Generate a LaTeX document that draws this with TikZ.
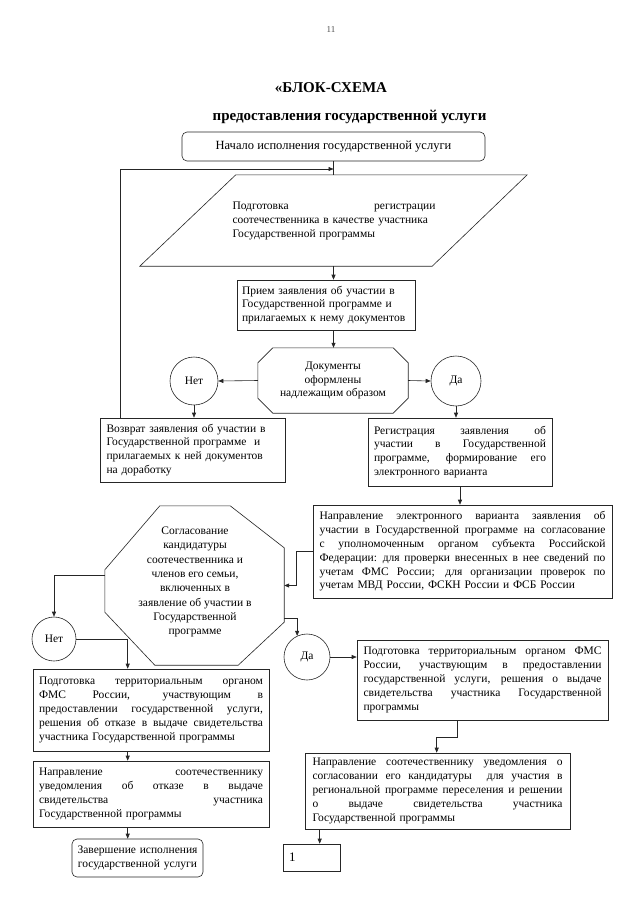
\documentclass[tikz,border=0pt]{standalone}
\usepackage{fontspec}
\setmainfont{Liberation Serif}
\usetikzlibrary{arrows.meta,calc}
\newlength\jlw
\newcommand\jl[1]{\leavevmode\hbox to\jlw{\spaceskip=.25em plus 1fil\relax#1}}
\newcommand\bodyf{\fontsize{11.5}{13.8}\selectfont}
\newcommand\titlef{\fontsize{15}{18}\selectfont\bfseries}
\tikzset{
  ln/.style={line width=0.6pt, draw=black!85},
  arr/.style={ln, -{Triangle[length=5pt,width=4pt]}},
  bx/.style={draw=black!85, line width=0.6pt, inner sep=0pt, align=left, font=\bodyf},
  jw/.style={text width=#1, execute at begin node={\setlength{\jlw}{#1}}},
  circ/.style={circle, draw=black!85, line width=0.6pt, inner sep=0pt, font=\bodyf},
}
\begin{document}
\begin{tikzpicture}[x=1pt,y=-1pt]
\useasboundingbox (0,0) rectangle (640,905);
\fill[white] (0,0) rectangle (640,905);

\node[font=\fontsize{9}{10}\selectfont, text=black!70] (pg) at (331,30) {11};
\node[font=\titlef] (t1) at (331,88) {«БЛОК-СХЕМА};
\node[font=\titlef] (t2) at (349.5,117) {предоставления государственной услуги};

% start
\node[bx, rounded corners=5pt, minimum width=303, minimum height=29, align=center, font=\fontsize{12.5}{15}\selectfont] (start) at (333.5,146.5) {Начало исполнения государственной услуги};

% parallelogram
\node[inner sep=0pt, minimum width=387, minimum height=91] (prep) at (333.5,220.5) {};
\draw[ln] ($(prep.north west)+(96,0)$) -- (prep.north east) -- ($(prep.south east)+(-95,0)$) -- (prep.south west) -- cycle;
\node[font=\bodyf, jw=203pt, align=left, inner sep=0pt] (prept) at (334,221) {\jl{Подготовка регистрации}\\соотечественника в качестве участника\\Государственной программы};

\coordinate (j1) at (333.5,169);
\draw[ln] (start.south) -- (start.south |- prep.north);

% receive
\node[bx, minimum width=178, minimum height=50, text width=168] (recv) at (326,305) {Прием заявления об участии в\\Государственной программе и\\прилагаемых к нему документов};
\draw[arr] (prep.south) -- (prep.south |- recv.north);

% documents decision
\node[inner sep=0pt, minimum width=150, minimum height=65, font=\bodyf, align=center] (doc) at (333,380.5) {Документы\\оформлены\\надлежащим образом};
\draw[ln] ($(doc.north west)+(15,0)$) -- ($(doc.north east)+(-15,0)$) -- ($(doc.north east)+(0,15)$) -- ($(doc.south east)+(0,-15)$) -- ($(doc.south east)+(-15,0)$) -- ($(doc.south west)+(15,0)$) -- ($(doc.south west)+(0,-15)$) -- ($(doc.north west)+(0,15)$) -- cycle;
\draw[arr] (recv.south -| prep.south) -- (prep.south |- doc.north);

\node[circ, minimum size=48] (net1) at (194,381) {Нет};
\node[circ, minimum size=50] (da1) at (456,381) {Да};
\draw[arr] (doc.west) -- (net1.east);
\draw[arr] (doc.east) -- (da1.west);

% return
\node[bx, minimum width=185, minimum height=64, text width=172] (ret) at (192.5,450) {Возврат заявления об участии в\\Государственной программе~ и\\прилагаемых к ней документов\\на доработку};
\draw[arr] (net1.south) -- (net1.south |- ret.north);
\coordinate (fb) at ($(ret.north west)+(21,0)$);
\draw[arr] (fb) |- (j1);

% registration
\node[bx, minimum width=184, minimum height=68, jw=172pt] (reg) at (460,452) {\jl{Регистрация заявления об}\\\jl{участии в Государственной}\\\jl{программе, формирование его}\\электронного варианта};
\draw[arr] (da1.south) -- (da1.south |- reg.north);

% send electronic
\node[bx, minimum width=299, minimum height=93, jw=286pt] (sendE) at (462.5,551.5) {\jl{Направление электронного варианта заявления об}\\\jl{участии в Государственной программе на согласование}\\\jl{с уполномоченным органом субъекта Российской}\\\jl{Федерации: для проверки внесенных в нее сведений по}\\\jl{учетам ФМС России; для организации проверок по}\\учетам МВД России, ФСКН России и ФСБ России};
\draw[arr] (reg.south) -- (reg.south |- sendE.north);

% octagon
\node[inner sep=0pt, minimum width=179, minimum height=159] (oct) at (194.5,585.5) {};
\draw[ln] ($(oct.north west)+(55,0)$) -- ($(oct.north east)+(-54,0)$) -- ($(oct.north east)+(0,42)$) -- ($(oct.south east)+(0,-43)$) -- ($(oct.south east)+(-46,0)$) -- ($(oct.south west)+(50,0)$) -- ($(oct.south west)+(0,-53)$) -- ($(oct.north west)+(0,64)$) -- cycle;
\node[font=\fontsize{11.5}{14.3}\selectfont, align=center, inner sep=0pt] (octt) at (195,582) {Согласование\\кандидатуры\\соотечественника и\\членов его семьи,\\включенных в\\заявление об участии в\\Государственной\\программе};
\draw[arr] (sendE.west) -- ++(-16,0) |- (oct.east);

% left branch
\node[circ, minimum size=44] (net2) at (54,639) {Нет};
\draw[arr] ($(oct.west)+(0,-10)$) -| (net2.north);

\node[bx, minimum width=236, minimum height=82, jw=224pt] (lp) at (151,710) {\jl{Подготовка территориальным органом}\\\jl{ФМС России, участвующим в}\\\jl{предоставлении государственной услуги,}\\\jl{решения об отказе в выдаче свидетельства}\\участника Государственной программы};
\coordinate (lpx) at ($(lp.north west)+(95,0)$);
\draw[arr] (net2.east) -| (lpx);

\node[bx, minimum width=236, minimum height=66, jw=224pt] (ls) at (151,794) {\jl{Направление соотечественнику}\\\jl{уведомления об отказе в выдаче}\\\jl{свидетельства участника}\\Государственной программы};
\coordinate (lpb) at ($(lp.south west)+(95,0)$);
\draw[arr] (lpb) -- (lpb |- ls.north);

\node[bx, rounded corners=5pt, minimum width=131, minimum height=38, text width=125, align=center] (fin) at (137.5,858) {Завершение исполнения\\государственной услуги};
\coordinate (lsb) at ($(ls.south west)+(95,0)$);
\draw[arr] (lsb) -- (lsb |- fin.north);

% right branch
\node[circ, minimum size=46] (da2) at (307,657) {Да};
\coordinate (ox) at ($(oct.east)+(0,33)$);
\draw[arr] (ox) -| (da2.115);

\node[bx, minimum width=251, minimum height=80, jw=238pt] (rp) at (482.5,680) {\jl{Подготовка территориальным органом ФМС}\\\jl{России, участвующим в предоставлении}\\\jl{государственной услуги, решения о выдаче}\\\jl{свидетельства участника Государственной}\\программы};
\draw[arr] (da2.east) -- (da2.east -| rp.west);

\node[bx, minimum width=265, minimum height=76, jw=250pt] (rs) at (437.5,791) {\jl{Направление соотечественнику уведомления о}\\\jl{согласовании его кандидатуры~ для участия в}\\\jl{региональной программе переселения и решении}\\\jl{о выдаче свидетельства участника}\\Государственной программы};
\coordinate (rx) at ($(rp.south west)+(101,0)$);
\coordinate (sx) at ($(rs.north west)+(132,0)$);
\draw[arr] (rx) -- ++(0,17) -| (sx);

\node[bx, minimum width=57, minimum height=27, text width=45, font=\fontsize{13}{15}\selectfont] (one) at (311.5,857.5) {1};
\coordinate (ux) at ($(rs.south west)+(15,0)$);
\draw[arr] (ux) -- (ux |- one.north);
\end{tikzpicture}
\end{document}
